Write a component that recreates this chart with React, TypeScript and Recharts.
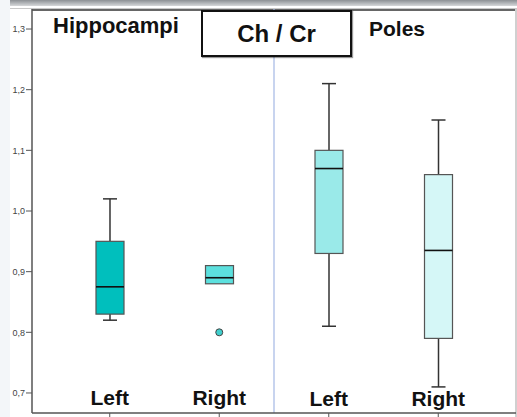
import React from "react";
import { ComposedChart, Bar, Scatter, XAxis, YAxis, ReferenceLine } from "recharts";

// Ch / Cr ratios
const categories = ["Left", "Right", "Left", "Right"];
const positions = [1, 2, 3, 4];
const whiskerLow = [0.82, 0.88, 0.81, 0.71];
const q1 = [0.83, 0.88, 0.93, 0.79];
const median = [0.875, 0.89, 1.07, 0.935];
const q3 = [0.95, 0.91, 1.1, 1.06];
const whiskerHigh = [1.02, 0.91, 1.21, 1.15];
const outlierPos = [2];
const outlierValues = [0.8];
const yTicks = [0.7, 0.8, 0.9, 1.0, 1.1, 1.2, 1.3];

const boxFills = ["#00bfbd", "#5ce0de", "#9aeae9", "#d5f7f7"];
const titleFont = "'Liberation Sans', Arial, sans-serif";

const data = positions.map((pos, i) => ({
  pos,
  label: categories[i],
  range: [whiskerLow[i], whiskerHigh[i]],
  q1: q1[i],
  median: median[i],
  q3: q3[i],
}));

const outliers = outlierPos.map((pos, i) => ({ pos, value: outlierValues[i] }));

/**
 * Box + whiskers, drawn inside the bar slot that recharts gives for [low, high]
 */
const BoxShape = (props: any) => {
  const { x, y, width, height, payload, index } = props;
  const [lo, hi] = payload.range;
  const top = Math.min(y, y + height);
  const h = Math.abs(height);
  const k = h / (hi - lo); // px per unit from the bar's own scale
  const py = (v: number) => top + (hi - v) * k;
  const cx = x + width / 2;
  const cap = 7;
  const yQ1 = py(payload.q1);
  const yQ3 = py(payload.q3);
  const yMed = py(payload.median);
  return (
    <g>
      {hi > payload.q3 && (
        <>
          <line x1={cx} x2={cx} y1={top} y2={yQ3} stroke="#333" strokeWidth={1.5} />
          <line x1={cx - cap} x2={cx + cap} y1={top} y2={top} stroke="#333" strokeWidth={1.5} />
        </>
      )}
      {lo < payload.q1 && (
        <>
          <line x1={cx} x2={cx} y1={yQ1} y2={top + h} stroke="#333" strokeWidth={1.5} />
          <line x1={cx - cap} x2={cx + cap} y1={top + h} y2={top + h} stroke="#333" strokeWidth={1.5} />
        </>
      )}
      <rect
        x={x}
        y={yQ3}
        width={width}
        height={yQ1 - yQ3}
        fill={boxFills[index]}
        stroke="#555"
        strokeWidth={1.2}
      />
      <line x1={x} x2={x + width} y1={yMed} y2={yMed} stroke="#111" strokeWidth={1.6} />
    </g>
  );
};

const OutlierDot = (props: any) => {
  const { cx, cy } = props;
  return <circle cx={cx} cy={cy} r={3.5} fill="#3fcfcd" stroke="#444" strokeWidth={1} />;
};

const CategoryTick = (props: any) => {
  const { x, y, payload } = props;
  const i = positions.indexOf(payload.value);
  return (
    <text
      x={x}
      y={y - 14 + (i >= 2 ? 1 : 0)}
      textAnchor="middle"
      fontFamily={titleFont}
      fontWeight="bold"
      fontSize={21}
      fill="#111"
    >
      {categories[i]}
    </text>
  );
};

const fmt = (v: number) => v.toFixed(1).replace(".", ",");

export default function App() {
  return (
    <div
      style={{
        position: "absolute",
        left: 0,
        top: 0,
        width: 517,
        height: 417,
        background: "#fff",
        overflow: "hidden",
      }}
    >
      {/* window chrome around the screenshot */}
      <div style={{ position: "absolute", left: 0, top: 0, width: 10, height: 417, background: "#f3f6f9" }} />
      <div
        style={{
          position: "absolute",
          left: 10,
          top: 0,
          width: 507,
          height: 6,
          background: "linear-gradient(#8c9094, #d6d8da)",
        }}
      />
      <div style={{ position: "absolute", left: 10, top: 8, width: 507, height: 1, background: "#c8c8c8" }} />
      <div style={{ position: "absolute", left: 32, top: 9, width: 485, height: 1.5, background: "#666" }} />
      <div style={{ position: "absolute", left: 515, top: 9, width: 2, height: 408, background: "#d0d0d0" }} />

      <ComposedChart
        width={517}
        height={417}
        data={data}
        margin={{ top: 9, right: 1, bottom: 0, left: 0 }}
        style={{ position: "absolute", left: 0, top: 0 }}
      >
        <XAxis
          dataKey="pos"
          type="number"
          domain={[0.29, 4.71]}
          ticks={positions}
          height={4}
          tickSize={4}
          tickLine={{ stroke: "#555" }}
          axisLine={{ stroke: "#555", strokeWidth: 1.5 }}
          tick={<CategoryTick />}
          interval={0}
          allowDataOverflow
        />
        <YAxis
          type="number"
          domain={[0.667, 1.333]}
          ticks={yTicks}
          width={32}
          tickSize={6}
          tickMargin={1}
          tickFormatter={fmt}
          tick={{ fontSize: 9, fill: "#444", fontFamily: "'Liberation Sans', Arial, sans-serif" }}
          tickLine={{ stroke: "#555" }}
          axisLine={{ stroke: "#555", strokeWidth: 1.5 }}
          allowDataOverflow
        />
        <ReferenceLine x={2.5} stroke="#a3b8e4" strokeWidth={1.2} />
        <Bar dataKey="range" barSize={28} shape={<BoxShape />} isAnimationActive={false} />
        <Scatter data={outliers} dataKey="value" shape={<OutlierDot />} isAnimationActive={false} />
      </ComposedChart>

      {/* panel titles */}
      <div
        style={{
          position: "absolute",
          left: 53,
          top: 13,
          fontFamily: titleFont,
          fontWeight: "bold",
          fontSize: 22,
          color: "#111",
          lineHeight: "26px",
        }}
      >
        Hippocampi
      </div>
      <div
        style={{
          position: "absolute",
          left: 369,
          top: 16,
          fontFamily: titleFont,
          fontWeight: "bold",
          fontSize: 21,
          color: "#111",
          lineHeight: "26px",
        }}
      >
        Poles
      </div>
      <div
        style={{
          position: "absolute",
          left: 201,
          top: 10,
          width: 147,
          height: 43,
          border: "2px solid #111",
          background: "#fff",
          boxShadow: "1px 1px 1px rgba(0,0,0,0.4)",
          display: "flex",
          alignItems: "center",
          justifyContent: "center",
          fontFamily: titleFont,
          fontWeight: "bold",
          fontSize: 24,
          color: "#111",
        }}
      >
        Ch / Cr
      </div>
    </div>
  );
}
